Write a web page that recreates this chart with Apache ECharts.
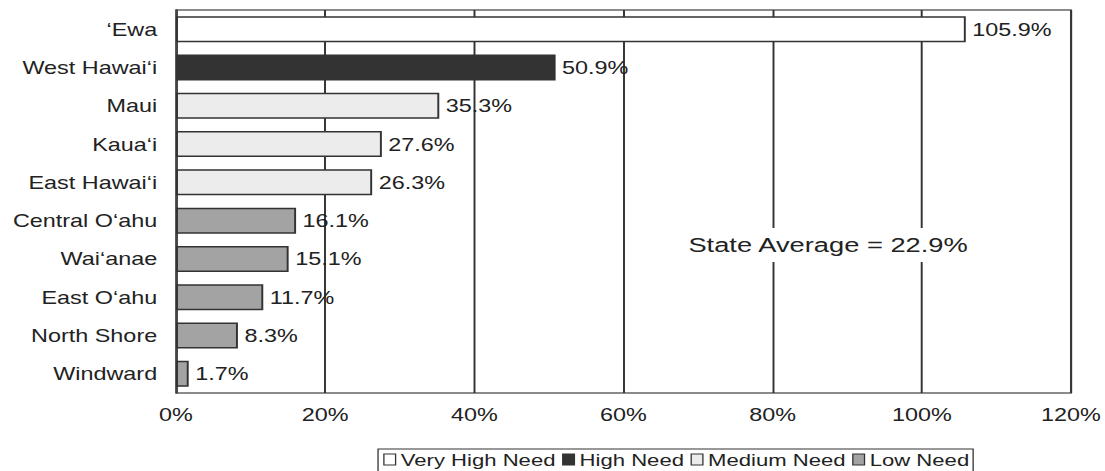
<!DOCTYPE html>
<html><head><meta charset="utf-8">
<script src="https://cdn.jsdelivr.net/npm/echarts@6/dist/echarts.min.js"></script>
<style>
html,body{margin:0;padding:0;background:#fff;overflow:hidden}
#wrap{width:1105px;height:471px;overflow:hidden}
#c{width:850px;height:471px;transform:scaleX(1.3);transform-origin:0 0}
</style>
</head><body><div id="wrap"><div id="c"></div></div>
<script>
var categories = ['\u2018Ewa', 'West Hawai\u2018i', 'Maui', 'Kaua\u2018i', 'East Hawai\u2018i', 'Central O\u2018ahu', 'Wai\u2018anae', 'East O\u2018ahu', 'North Shore', 'Windward'];
var values = [105.9, 50.9, 35.3, 27.6, 26.3, 16.1, 15.1, 11.7, 8.3, 1.7];
var needLevel = ['Very High Need', 'High Need', 'Medium Need', 'Medium Need', 'Medium Need', 'Low Need', 'Low Need', 'Low Need', 'Low Need', 'Low Need'];
var levels = ['Very High Need', 'High Need', 'Medium Need', 'Low Need'];
var levelColors = ['#ffffff', '#333333', '#ececec', '#a3a3a3'];
var xTicks = [0, 20, 40, 60, 80, 100, 120];
var stateAverage = 22.9;

var FONT = '"Liberation Sans", Arial, sans-serif';
var chart = echarts.init(document.getElementById('c'), null, { renderer: 'svg' });
var series = levels.map(function (lv, li) {
  return {
    name: lv, type: 'bar', barWidth: 26, barGap: '-100%',
    itemStyle: { color: levelColors[li], borderColor: '#333', borderWidth: 1.5 },
    label: { show: true, position: 'right', distance: 5, fontFamily: FONT, fontSize: 18, color: '#222',
      formatter: function (p) { return p.value.toFixed(1) + '%'; } },
    data: values.map(function (v, i) { return needLevel[i] === lv ? v : '-'; }),
    z: 3
  };
});
chart.setOption({
  animation: false,
  grid: { left: 135.4, right: 26.2, top: 10, bottom: 78, show: true, borderColor: '#666', borderWidth: 1.5, containLabel: false },
  xAxis: {
    type: 'value', min: xTicks[0], max: xTicks[xTicks.length - 1], interval: 20,
    axisLine: { show: false }, axisTick: { show: false },
    axisLabel: { formatter: '{value}%', fontFamily: FONT, fontSize: 18, color: '#222', margin: 13 },
    splitLine: { show: true, lineStyle: { color: '#333', width: 1.5 } }
  },
  yAxis: {
    type: 'category', data: categories, inverse: true,
    axisLine: { show: true, lineStyle: { color: '#444', width: 1.5 } }, axisTick: { show: false },
    axisLabel: { fontFamily: FONT, fontSize: 18, color: '#222', margin: 14.5 }
  },
  legend: {
    data: levels, left: 290.8, top: 449,
    itemWidth: 9, itemHeight: 11, itemGap: 5, icon: 'rect',
    borderColor: '#333', borderWidth: 1, padding: [2, 3, 4, 4],
    textStyle: { fontFamily: FONT, fontSize: 17, color: '#222', padding: [0, 0, 0, -1] },
    itemStyle: { borderColor: '#333', borderWidth: 1 }
  },
  graphic: [{
    type: 'text', x: 637, y: 245, z: 10,
    style: { text: 'State Average = ' + stateAverage.toFixed(1) + '%', font: '21px ' + FONT, fill: '#222',
      align: 'center', verticalAlign: 'middle',
      backgroundColor: '#fff', padding: [6, 3, 7, 3] }
  }],
  series: series
});
</script></body></html>
